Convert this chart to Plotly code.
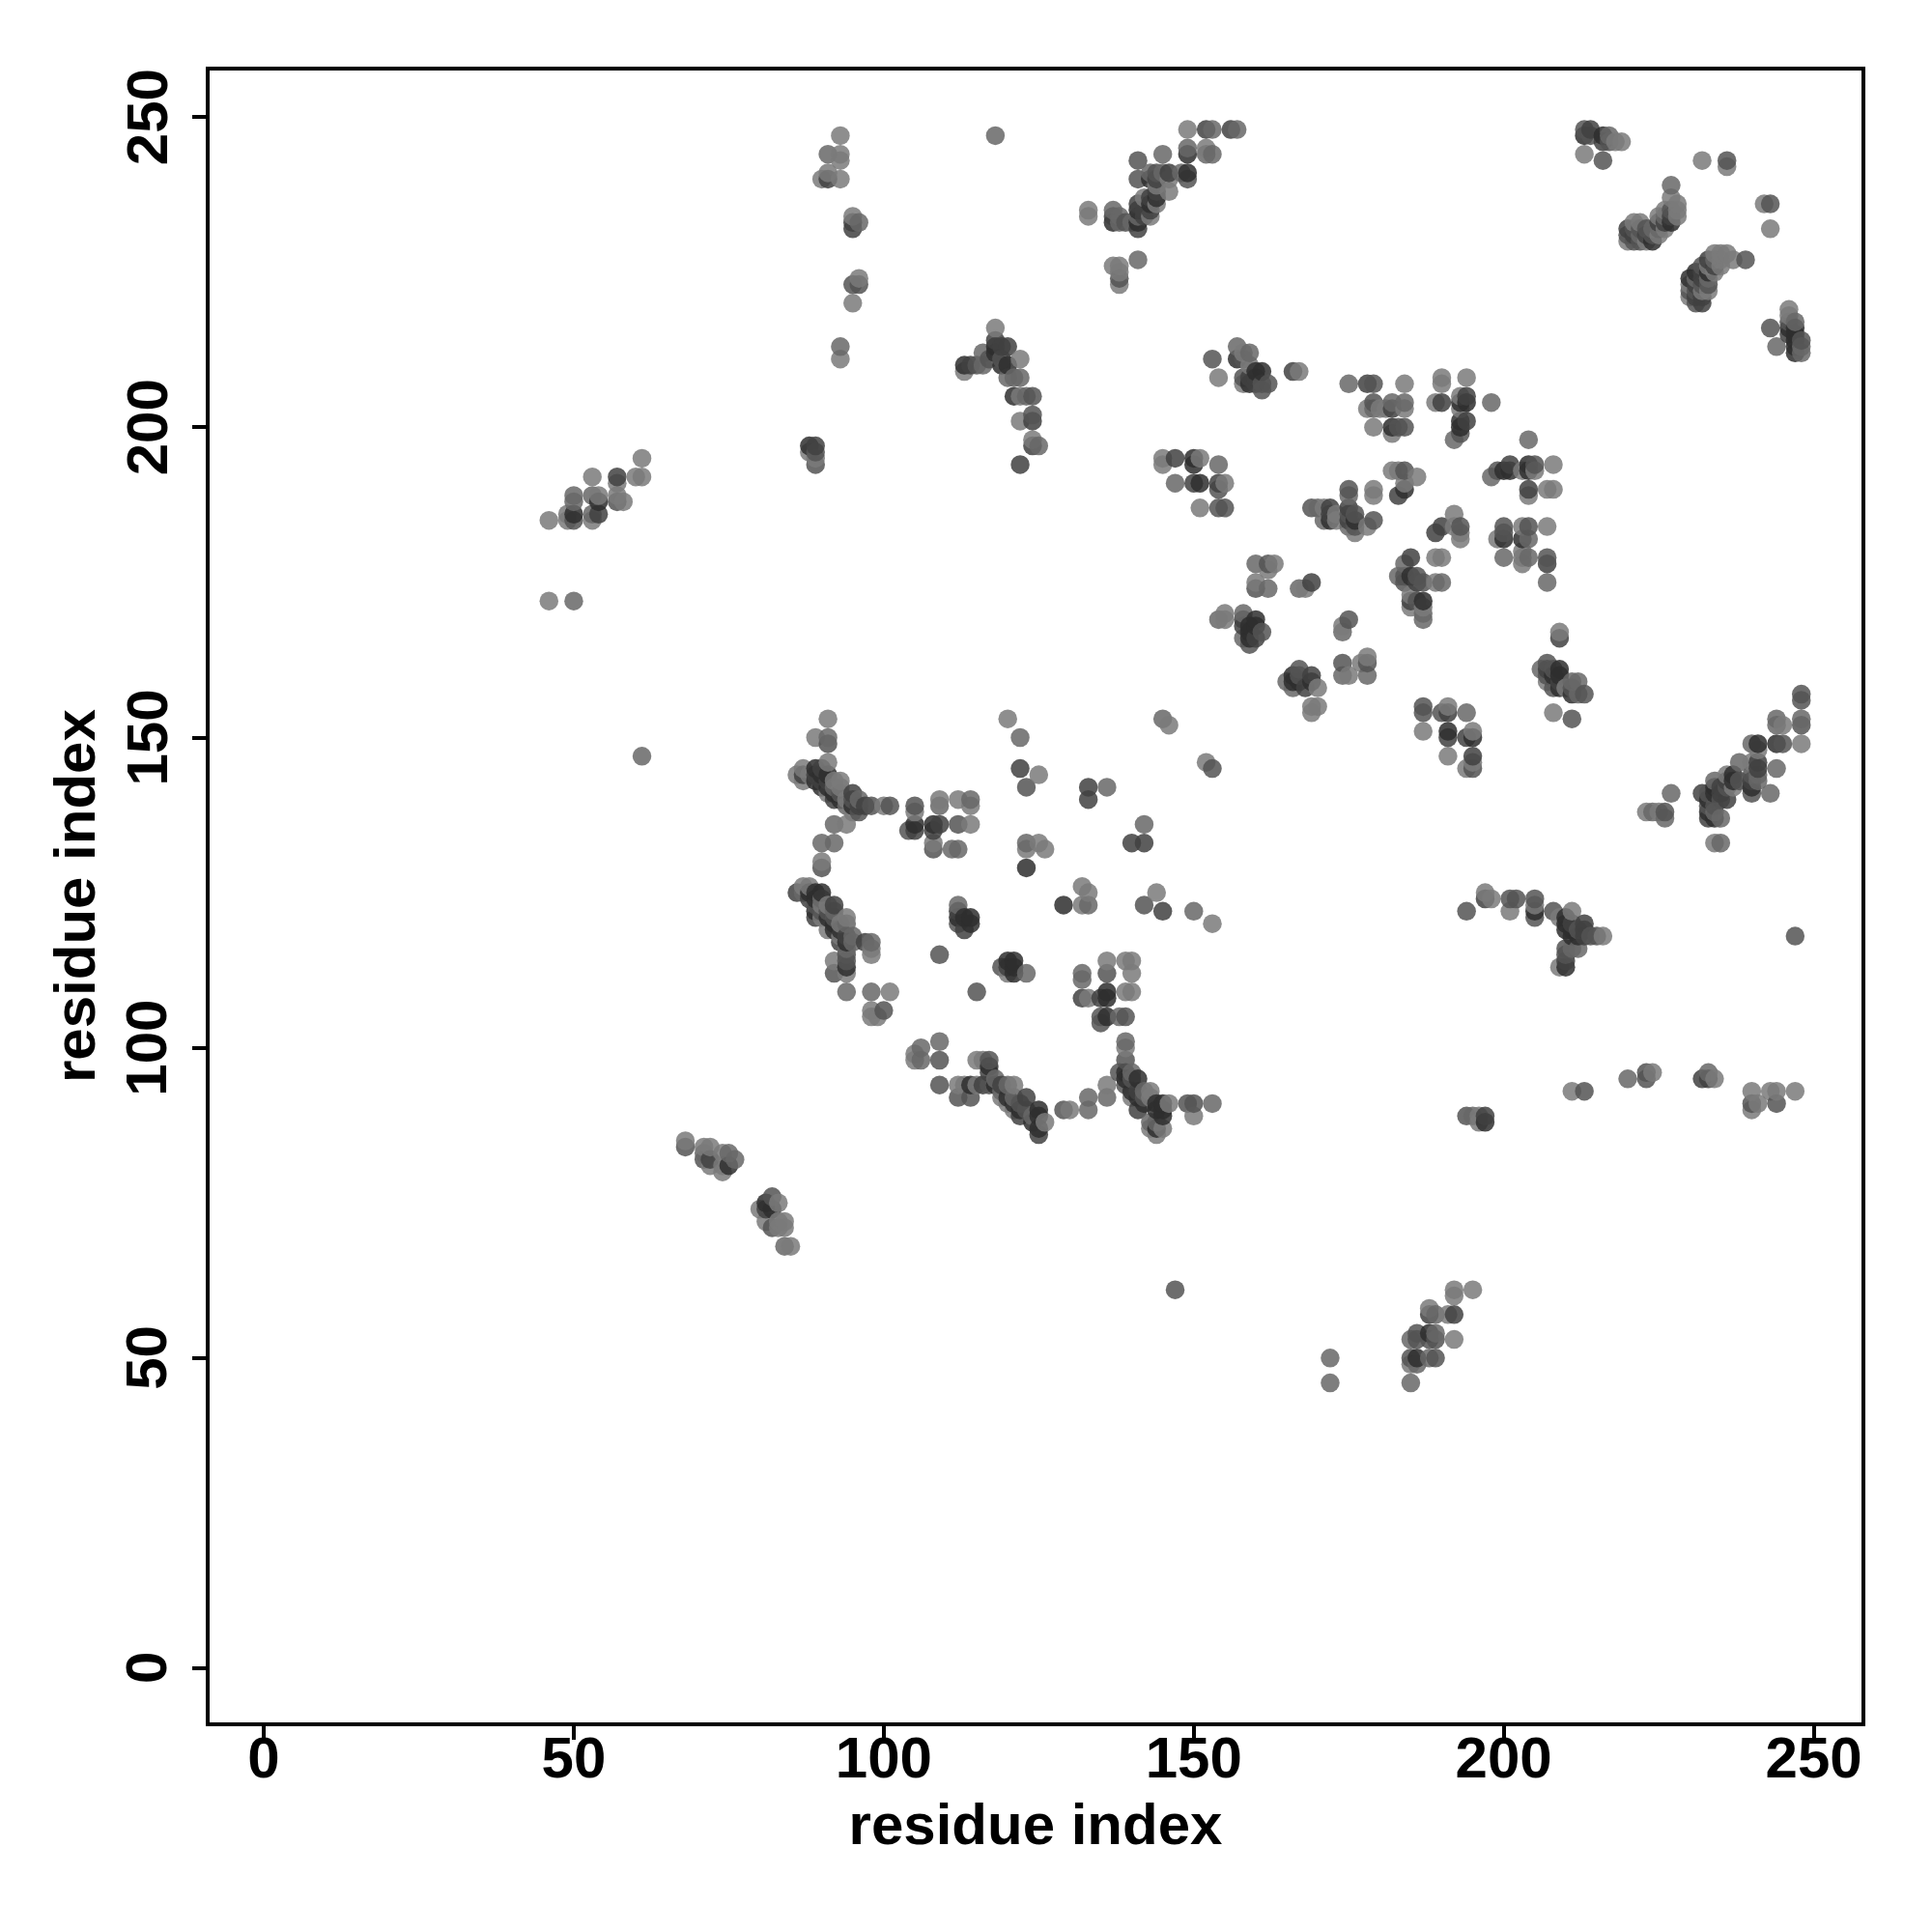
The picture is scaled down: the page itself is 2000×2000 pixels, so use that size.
import numpy as np
import plotly.graph_objects as go

# (residue i, residue j, contact strength 1=weak .. 5=strong)
top_mid = [(93,247,1),(91,244,2),(93,244,1),(93,243,1),(91,241,1),(90,240,1),(91,240,4),(93,240,1),
 (95,234,1),(96,233,2),(95,232,4),(95,233,4),(96,224,1),(95,223,3),(96,223,3),(95,220,1),(93,213,2),(93,211,1),
 (118,247,2),(88,197,5),(89,197,4),(88,196,1),(89,195,1),(89,194,3),(89,196,3)]
left_group = [(46,185,1),(49,186,1),(49,185,1),(50,189,2),(50,188,2),(50,186,5),(50,185,3),(53,192,1),(53,189,2),
 (54,189,1),(54,188,5),(53,186,2),(54,186,4),(53,185,1),(57,192,4),(57,191,1),(57,189,1),(57,188,3),(58,188,1),
 (60,192,1),(61,192,1),(61,195,1),(46,172,1),(50,172,2),(61,147,2)]
top_arc = [(149,248,1),(152,248,4),(153,248,2),(156,248,4),(157,248,2),(149,245,2),(149,244,5),(152,245,1),(152,244,2),
 (153,244,2),(145,244,2),(141,243,3),(141,240,3),(143,241,2),(144,241,3),(145,241,2),(146,241,4),(148,241,2),
 (149,241,5),(149,240,3),(143,240,5),(144,240,4),(146,240,1),(144,239,1),(146,238,1),(144,238,4),(144,237,5),
 (143,237,4),(142,237,1),(141,236,4),(143,236,5),(144,236,1),(141,235,5),(142,235,4),(143,235,4),(141,234,2),
 (143,234,1),(142,234,4),(141,233,5),(141,232,4),(140,233,2),(137,235,2),(138,234,2),(137,234,4),(137,233,5),
 (138,233,2),(139,233,3),(133,235,1),(133,234,1),(137,226,1),(138,226,1),(138,225,1),(138,224,3),(138,223,1),(141,227,2)]
upper_a = [(153,211,3),(154,208,1),(157,213,2),(158,212,1),(159,212,2),(157,211,5),(158,211,3),(159,210,1),(158,208,3),
 (158,207,1),(159,208,4),(159,207,5),(160,209,5),(161,209,5),(160,207,4),(161,207,3),(161,206,3),(162,207,3),
 (160,208,4),(166,209,4),(167,209,1)]
upper_b = [(175,207,2),(178,207,4),(179,207,3),(184,207,1),(179,204,3),(182,204,2),(184,204,2),(178,203,1),(179,203,2),
 (180,203,1),(181,203,1),(182,203,4),(184,203,1),(179,200,1),(182,200,5),(183,200,3),(184,200,3),(182,199,1),
 (190,208,1),(190,207,1),(194,208,1),(189,204,1),(190,204,4),(193,205,1),(194,205,4),(193,204,5),(194,204,5),
 (193,203,1),(198,204,2),(194,201,4),(193,201,5),(193,200,5),(193,199,3),(192,198,2)]
upper_c = [(204,198,2),(201,194,4),(204,194,5),(205,194,3),(208,194,1),(199,193,3),(200,193,5),(201,193,5),(203,193,1),
 (204,193,5),(205,193,1),(198,192,2),(204,190,4),(207,190,1),(208,190,1),(204,189,1),(200,184,3),(203,184,1),
 (204,184,3),(207,184,1),(200,183,3),(199,182,1),(200,182,5),(203,182,5),(204,182,2),(203,180,1),(200,179,2),
 (203,179,1),(204,179,2),(207,179,3),(207,178,4),(203,178,1),(207,175,2)]
mid_a = [(182,193,1),(183,193,1),(184,193,3),(186,192,1),(184,191,1),(184,190,5),(183,189,4),
 (175,190,3),(179,190,1),(175,189,2),(179,189,1),(169,187,3),(170,187,2),(171,187,1),(172,187,4),(175,187,4),
 (172,186,4),(173,186,1),(175,186,3),(176,186,3),(171,185,2),(172,185,5),(173,185,1),(175,185,4),(176,185,5),
 (179,185,3),(175,184,2),(176,184,3),(178,184,1),(176,183,1)]
mid_b = [(145,195,1),(147,195,4),(150,195,5),(151,195,1),(145,194,1),(150,194,5),(154,194,2),(147,191,2),(150,191,4),
 (151,191,5),(154,191,4),(155,191,1),(154,190,3),(151,187,1),(154,187,3),(155,187,3),
 (160,178,2),(162,178,3),(163,178,1),(162,177,1),(160,175,1),(160,174,3),(162,174,2),(167,174,2),(168,174,1),(169,175,4),
 (154,169,2),(155,170,1),(155,169,1),(158,170,2),(158,169,4),(160,169,5),(159,168,5),(160,168,5),(158,168,4),
 (161,167,3),(158,166,2),(159,166,5),(160,166,4),(159,165,3),(159,167,5),(175,169,3),(174,168,1),(174,167,2),
 (209,167,1),(209,166,4)]
mid_c = [(165,159,2),(166,159,5),(166,160,5),(167,161,3),(167,160,3),(167,159,5),(166,158,2),(168,158,4),(169,160,4),
 (169,159,5),(170,158,1),(169,154,1),(169,155,1),(170,155,1),(174,162,3),(174,160,2),(175,160,1),(177,162,1),
 (178,163,1),(178,162,3),(178,160,2),(206,161,2),(207,162,3),(207,161,4),(207,160,3),(207,159,1),(208,161,3),
 (208,160,5),(209,161,5),(209,160,5),(208,158,3),(209,159,4),(211,159,2),(212,159,2),(210,158,1),(211,158,3),
 (211,157,5),(212,157,2),(213,157,3),(208,154,1),(211,153,3),(209,158,5)]
mid_d = [(187,155,3),(187,154,3),(191,155,1),(190,154,3),(191,154,4),(194,154,2),(187,151,1),(191,151,5),(191,150,4),
 (195,151,1),(194,150,4),(195,150,5),(191,147,1),(195,147,4),(194,145,1),(195,145,3),(195,146,1),
 (185,179,4),(184,178,2),(183,176,2),(184,176,3),(185,176,5),(186,176,3),(187,175,3),(186,175,4),(184,175,3),
 (189,179,1),(190,179,1),(189,175,1),(190,175,2),(185,173,1),(185,172,4),(187,172,5),(186,172,3),(185,171,1),
 (187,171,1),(187,170,2),(187,169,2),(192,186,1),(190,184,4),(193,184,3),(189,183,4),(192,184,1),(193,183,1),(193,182,1)]
top_right = [(213,248,3),(214,248,4),(213,247,5),(214,247,3),(216,247,5),(217,247,2),(216,246,4),(217,246,3),(218,246,1),
 (219,246,1),(213,244,1),(216,243,3),(232,243,1),(236,243,3),(236,242,1),(242,236,1),(243,236,3),(243,232,1),
 (227,239,2),(227,237,1),(228,236,1),(228,235,1),(228,234,1),(227,235,3),(227,234,4),(227,233,5),(226,235,1),
 (226,234,2),(226,233,4),(226,232,1),(225,234,1),(225,233,4),(225,232,2),(224,231,3),(225,231,1),(224,230,5),
 (224,232,2),(223,232,3),(222,233,1),(222,232,3),(222,231,2),(223,231,4),(222,230,3),(221,233,1),(221,232,3),
 (221,231,4),(221,230,3),(220,232,4),(220,231,3),(220,230,1),(223,230,1)]
right_band = [(234,228,1),(235,228,1),(236,228,1),(237,227,1),(239,227,3),(235,227,1),(234,227,2),(233,227,4),(234,226,4),
 (233,226,1),(235,226,1),(232,226,3),(232,225,4),(233,225,5),(234,225,1),(231,225,5),(231,224,2),(232,224,4),
 (233,224,2),(230,224,5),(230,223,1),(231,223,4),(232,223,3),(233,223,3),(230,222,3),(231,222,3),(232,222,1),
 (233,222,1),(230,221,1),(231,221,4),(232,221,4),(231,220,3),(232,220,4),
 (246,219,1),(246,218,1),(247,217,2),(246,217,3),(246,216,5),(243,216,3),(247,216,5),(248,214,3),(247,214,5),
 (248,213,2),(247,213,5),(244,213,2),(248,212,2),(247,212,5),(246,215,4),(247,215,5)]
lower_a = [(91,153,1),(89,150,1),(91,150,2),(91,149,3),(91,146,1),(86,144,1),(87,145,1),(87,144,4),(87,143,1),(88,144,1),
 (89,145,5),(90,145,4),(89,144,4),(90,144,5),(91,144,5),(89,143,5),(90,143,4),(91,143,4),(90,142,5),(91,142,5),
 (92,143,1),(93,143,1),(92,142,2),(93,142,1),(92,141,5),(91,141,1),(93,141,3),(92,140,4),(93,140,5),(94,140,1),
 (95,141,4),(96,140,2),(95,140,3),(94,139,2),(95,139,5),(96,139,4),(96,138,3),(95,138,1),(97,139,4),(98,139,3),
 (100,139,1),(101,139,3),(90,130,1),(90,129,3),(90,133,2),(92,133,2),(92,136,2),(94,136,1)]
lower_b = [(105,139,3),(105,138,1),(104,135,3),(105,136,5),(105,135,4),(108,136,5),(109,136,4),(108,135,4),(109,140,1),
 (109,139,2),(108,133,1),(108,132,3),(111,132,2),(112,132,2),(112,140,1),(114,140,2),(114,139,1),(112,136,3),
 (114,136,1),(120,153,1),(122,150,2),(122,145,4),(125,144,1),(123,142,3),(133,142,4),(133,140,4),(136,142,2),
 (146,152,1),(145,153,2),(152,146,1),(153,145,3),(142,136,2),(140,133,4),(142,133,4),(123,133,2),(125,133,1),
 (123,132,1),(126,132,1),(123,129,5),(132,126,1),(133,125,1),(133,123,2),(132,123,1),(129,123,5),(144,125,1),
 (142,123,3),(145,122,4),(150,122,2),(153,120,1)]
lower_c = [(86,125,4),(87,126,1),(87,125,2),(88,126,1),(89,125,5),(90,125,5),(89,124,5),(90,124,2),(88,125,5),(88,124,4),
 (89,123,3),(90,123,1),(91,123,1),(92,123,4),(89,122,5),(90,122,3),(91,122,3),(92,122,2),(89,121,4),(90,121,1),
 (91,121,5),(92,121,3),(94,121,1),(93,120,1),(92,120,5),(94,120,2),(91,119,1),(92,119,5),(93,119,5),(94,118,4),
 (95,118,2),(93,118,1),(93,117,4),(94,117,5),(95,117,2),(97,117,4),(98,117,2),(98,116,1),(94,116,2),(94,115,3),
 (98,115,1),(92,114,1),(94,114,3),(94,113,5),(92,112,3),(94,112,1),(94,109,2),(98,109,2),(101,109,1),(100,106,3),
 (98,106,1),(98,105,1),(99,105,1)]
lower_d = [(112,123,2),(112,122,4),(112,121,5),(112,120,3),(113,121,5),(114,121,5),(114,120,5),(113,119,4),(109,115,3),(115,109,3),
 (119,113,3),(120,114,5),(121,114,5),(120,113,4),(121,113,5),(120,112,1),(121,112,5),(123,112,2),
 (132,112,2),(132,111,2),(132,108,4),(133,108,1),(136,114,1),(136,112,3),(135,108,4),(136,109,5),(136,108,5),
 (139,114,1),(140,114,1),(140,112,1),(139,109,1),(140,109,1),(135,105,3),(136,105,5),(135,104,3),(138,105,2),(139,105,3)]
lower_e = [(109,101,2),(109,98,3),(109,94,3),(105,99,1),(106,100,2),(105,98,1),(106,98,2),(112,94,1),(112,92,3),(114,94,5),
 (114,92,3),(113,94,1),(115,94,1),(115,98,1),(116,98,1),(117,98,3),(117,97,5),(117,96,4),(116,94,4),(118,95,2),
 (118,94,5),(119,94,4),(117,94,3),(120,94,2),(121,94,1),(119,93,2),(120,92,5),(119,92,1),(121,92,2),(121,91,5),
 (120,91,1),(123,92,4),(122,91,3),(122,90,5),(123,90,3),(125,90,5),(125,89,5),(124,89,2),(124,88,5),(126,88,1),
 (125,87,5),(125,86,4),(121,90,1),(122,89,4),(129,90,3),(130,90,1),(133,92,2),(133,90,2),(136,94,1),(136,92,2)]
lower_f = [(139,101,2),(139,100,1),(139,98,3),(138,96,3),(139,96,5),(140,96,2),(141,95,5),(139,95,5),(140,95,3),(139,94,3),
 (140,93,5),(141,93,4),(142,93,2),(143,93,1),(141,92,5),(142,92,3),(140,92,1),(143,92,1),(142,91,5),(141,90,4),
 (144,91,5),(145,91,5),(146,91,1),(144,90,5),(145,90,5),(145,89,5),(143,88,2),(144,88,2),(145,87,1),(143,87,1),
 (144,86,1),(144,87,5),(149,91,3),(150,91,3),(153,91,2),(150,89,1)]
bottom_left = [(68,85,1),(68,84,3),(71,84,1),(72,84,1),(71,83,2),(72,82,4),(71,82,3),(72,81,1),(74,83,1),(75,83,2),(76,82,2),
 (75,81,5),(74,80,1),(74,81,1),(82,76,3),(83,75,1),(81,75,5),(80,74,1),(82,74,5),(81,74,4),(81,72,1),(82,71,3),
 (83,72,1),(84,72,1),(83,71,1),(84,71,1),(84,68,2),(85,68,1)]
bottom_mid = [(172,50,2),(172,46,2),(185,46,2),(185,50,3),(185,49,1),(186,50,5),(186,49,2),(188,50,2),(189,50,3),(185,53,2),
 (186,54,3),(186,53,3),(188,54,5),(189,54,2),(188,53,3),(189,53,3),(192,53,1),(188,58,1),(189,57,2),(188,57,4),
 (191,57,1),(192,57,4),(192,61,1),(192,60,1),(195,61,1),(147,61,3)]
right_low = [(197,125,1),(197,124,4),(198,124,1),(201,124,3),(202,124,3),(201,122,1),(205,124,3),(205,123,1),(205,122,5),
 (205,121,3),(208,122,3),(209,121,1),(211,122,1),(210,121,5),(210,120,5),(211,120,4),(210,119,5),(211,119,5),
 (213,120,4),(213,119,4),(212,119,3),(211,118,5),(212,118,5),(213,118,4),(214,118,3),(215,118,3),(216,118,1),
 (210,116,3),(211,116,2),(212,116,2),(210,115,3),(210,114,4),(209,113,1),(210,113,5),(194,122,3),(247,118,3),
 (194,89,3),(195,89,2),(196,89,1),(197,89,4),(197,88,5),(196,88,1),(211,93,1),(213,93,3),(220,95,2),(223,96,3),
 (224,96,1),(223,95,3),(232,95,4),(233,96,2),(234,95,1),(233,95,4),(240,93,1),(243,93,1),(244,93,1),(247,93,1),
 (240,91,3),(241,91,1),(240,90,1),(244,91,3)]
right_diag = [(223,138,1),(224,138,2),(226,138,3),(225,138,1),(226,137,2),(227,141,2),(232,141,4),(233,141,3),(234,143,2),
 (234,142,5),(233,140,5),(234,141,5),(235,142,4),(235,141,4),(235,140,3),(236,144,1),(236,143,4),(236,142,3),
 (236,140,4),(237,144,5),(237,143,5),(237,142,1),(238,146,2),(238,143,3),(240,149,2),(241,149,5),(241,148,1),
 (240,146,1),(240,144,3),(240,143,4),(240,142,5),(240,141,3),(241,146,4),(241,145,4),(241,144,2),(241,143,2),
 (243,141,2),(244,145,2),(244,149,5),(245,149,3),(244,153,2),(244,152,2),(245,152,1),(248,157,3),(248,156,3),
 (248,153,2),(248,152,3),(248,149,1),(233,139,3),(233,138,5),(233,137,4),(234,137,5),(234,138,2),(235,137,2),
 (234,139,3),(234,133,1),(235,133,2)]
top_left_b = [(113,210,5),(113,209,1),(114,210,4),(116,212,2),(116,210,2),(115,210,3),(118,216,1),(118,214,4),(118,213,5),
 (119,213,4),(118,212,5),(119,211,3),(119,210,5),(117,211,3),(120,213,4),(122,211,1),(120,210,5),(121,208,2),
 (122,208,2),(120,208,2),(121,205,5),(122,205,1),(123,205,2),(124,205,3),(122,201,1),(124,202,3),(124,201,4),
 (124,198,1),(125,197,2),(124,197,4),(122,194,4)]

tick_values = [0, 50, 100, 150, 200, 250]
axis_title = "residue index"

contacts = np.array(top_mid + left_group + top_arc + upper_a + upper_b + upper_c + mid_a + mid_b + mid_c + mid_d
                    + top_right + right_band + lower_a + lower_b + lower_c + lower_d + lower_e + lower_f
                    + bottom_left + bottom_mid + right_low + right_diag + top_left_b)
# the reference draws in order of residue i, then residue j
contacts = contacts[np.lexsort((contacts[:, 1], contacts[:, 0]))]

TICK_FONT = dict(family="Liberation Sans", size=60, color="black", weight=700)
TITLE_FONT = dict(family="Liberation Sans", size=60, color="black", weight=700)

fig = go.Figure(go.Scatter(
    x=contacts[:, 0], y=contacts[:, 1], mode="markers",
    marker=dict(size=19.5, opacity=0.85, line=dict(width=0), color=contacts[:, 2], cmin=1, cmax=5,
                colorscale=[[0, "rgb(122,122,122)"], [1, "rgb(46,46,46)"]], showscale=False),
))
axis = dict(tickmode="array", tickvals=tick_values, ticks="outside", ticklen=14, tickwidth=3.5, tickcolor="black",
            showline=True, linewidth=3.5, linecolor="black", mirror=True, showgrid=False, zeroline=False,
            automargin=False)
fig.update_xaxes(**axis, range=[-8.73, 257.7], tickfont=TICK_FONT, ticklabelstandoff=-33,
                 title=dict(text=axis_title, font=TITLE_FONT, standoff=16))
fig.update_yaxes(**axis, range=[-8.72, 257.5], showticklabels=False)

# rotated y labels and title, centred on their ticks
for value in tick_values:
    fig.add_annotation(text=str(value), x=0, xref="paper", xanchor="center", xshift=-65,
                       y=value, yref="y", yanchor="middle", textangle=-90, showarrow=False, font=TICK_FONT)
fig.add_annotation(text=axis_title, x=0, xref="paper", xanchor="center", xshift=-140,
                   y=0.5, yref="paper", yanchor="middle", textangle=-90, showarrow=False, font=TITLE_FONT)

fig.update_layout(width=2000, height=2000, margin=dict(l=209, r=81, t=65, b=225, autoexpand=False),
                  plot_bgcolor="white", paper_bgcolor="white", showlegend=False)
fig.write_html("out.html")
